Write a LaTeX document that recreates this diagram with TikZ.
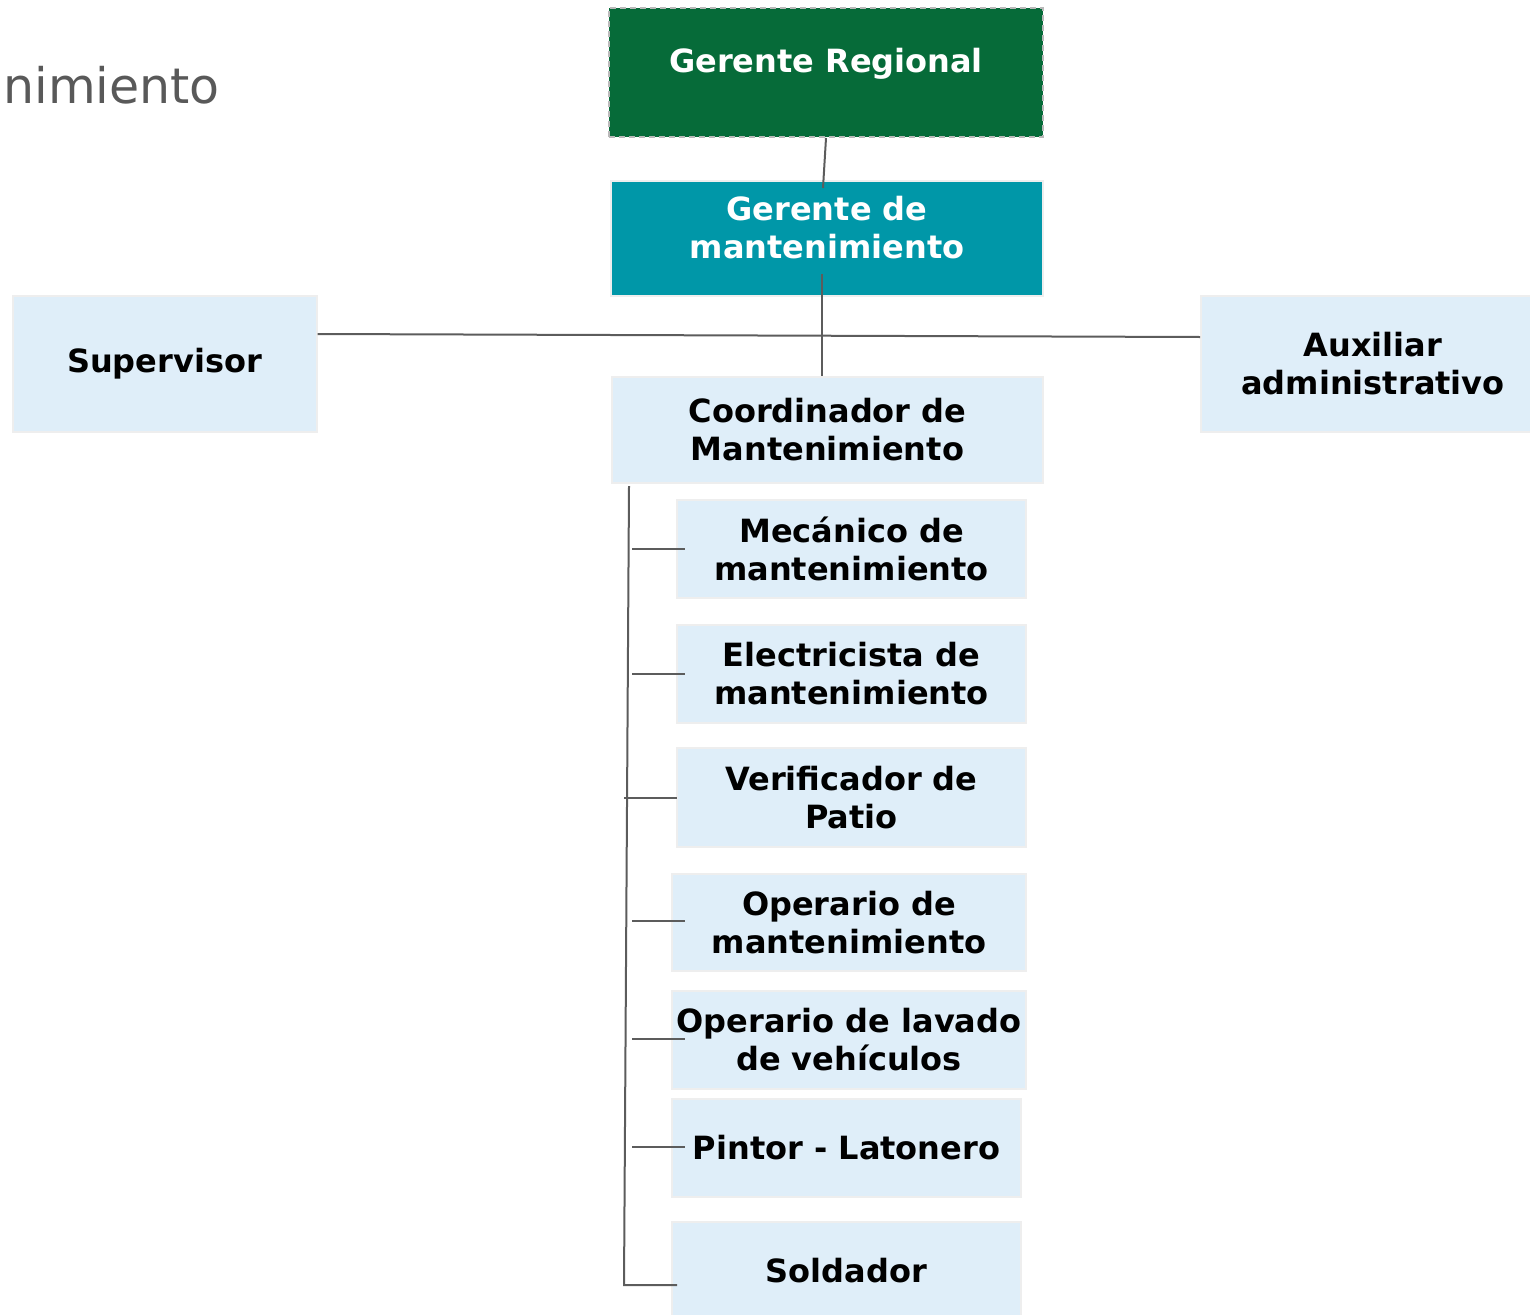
\documentclass[tikz,border=0pt]{standalone}
\usepackage{fontspec}
\setmainfont{DejaVu Sans}
\usetikzlibrary{calc}
\definecolor{gdark}{HTML}{066B39}
\definecolor{tealbox}{HTML}{0097A8}
\definecolor{lblue}{HTML}{DFEEF9}
\definecolor{bord}{HTML}{EEEEEE}
\definecolor{conn}{HTML}{5C5C5C}
\definecolor{titlegray}{HTML}{595959}
\begin{document}
\begin{tikzpicture}[x=1pt,y=-1pt,
  boxtext/.style={font=\fontsize{32}{38}\selectfont\bfseries, align=center},
  lbox/.style={boxtext, rectangle, fill=lblue, draw=bord, line width=2pt, inner sep=0pt, text=black},
  topbox/.style={rectangle, inner sep=0pt, line width=2pt},
  wtext/.style={boxtext, text=white, inner sep=0pt},
  conn/.style={draw=conn, line width=2pt}
]
\useasboundingbox (0,0) rectangle (1530,1314);
\node[anchor=base east, text=titlegray, font=\fontsize{49}{58}\selectfont, inner sep=0pt] (title) at (220,103) {nimiento};

\node[topbox, fill=gdark, draw=gray!55, dashed, dash pattern=on 6pt off 4pt, minimum width=434, minimum height=129] (gr) at (826,72.5) {};
\node[wtext, anchor=base] (grt) at (826,72) {Gerente Regional};

\node[topbox, fill=tealbox, draw=bord, minimum width=432, minimum height=115] (gm) at (827,238.5) {};
\node[wtext, anchor=north] (gmt) at (827,196) {Gerente de\\mantenimiento};

\node[lbox, minimum width=304, minimum height=136] (sup) at (164.5,364) {Supervisor};
\node[lbox, minimum width=344, minimum height=136] (aux) at (1373,364) {Auxiliar\\administrativo};
\node[lbox, minimum width=431, minimum height=106] (co) at (827.5,430) {Coordinador de\\Mantenimiento};

\node[lbox, minimum width=349, minimum height=98] (me) at (851.5,549) {Mecánico de\\mantenimiento};
\node[lbox, minimum width=349, minimum height=98] (el) at (851.5,674) {Electricista de\\mantenimiento};
\node[lbox, minimum width=349, minimum height=99] (ve) at (851.5,797.5) {Verificador de\\Patio};
\node[lbox, minimum width=354, minimum height=97] (om) at (849,922.5) {Operario de\\mantenimiento};
\node[lbox, minimum width=354, minimum height=98] (ol) at (849,1040) {Operario de lavado\\de vehículos};
\node[lbox, minimum width=349, minimum height=98] (pi) at (846.5,1148) {Pintor - Latonero};
\node[lbox, minimum width=349, minimum height=98] (so) at (846.5,1271) {Soldador};

% connectors
\draw[conn] (gr.south) -- ($(gm.north)+(-4,8)$);
\draw[conn] ($(gm.south)+(-5,-23)$) -- ($(co.north)+(-5.5,0)$);
\draw[conn] ($(sup.north east)+(0,39)$) -- ($(aux.north west)+(0,42)$);
\coordinate (spb) at ($(so.west)+(-47,14)$);
\draw[conn] ($(co.south west)+(18,2)$) -- (spb) -- ($(so.west)+(6,14)$);
\draw[conn] ($(me.west)+(-44,0)$) -- ($(me.west)+(9,0)$);
\draw[conn] ($(el.west)+(-44,0)$) -- ($(el.west)+(9,0)$);
\draw[conn] ($(ve.west)+(-52,0)$) -- ($(ve.west)+(1,0)$);
\draw[conn] ($(om.west)+(-39,-1.5)$) -- ($(om.west)+(14,-1.5)$);
\draw[conn] ($(ol.west)+(-39,-1)$) -- ($(ol.west)+(14,-1)$);
\draw[conn] ($(pi.west)+(-39,-1)$) -- ($(pi.west)+(14,-1)$);
\end{tikzpicture}
\end{document}
